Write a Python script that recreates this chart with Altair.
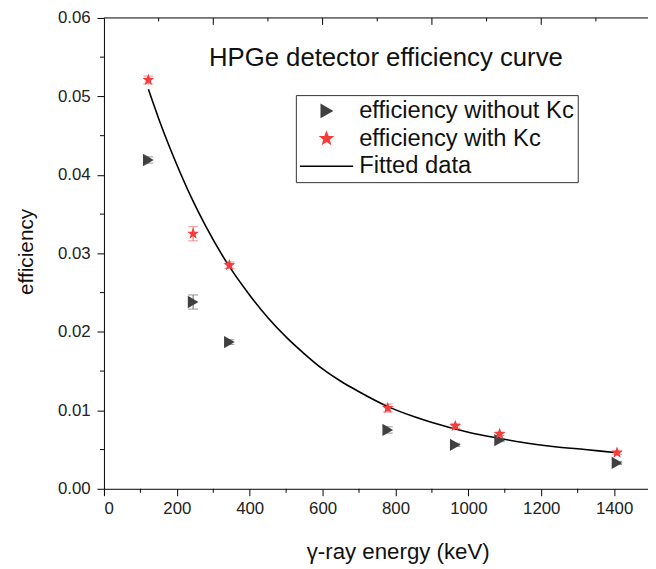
import math
import altair as alt
import pandas as pd

# ---- data ----
series_names = ["efficiency without Kc", "efficiency with Kc", "Fitted data"]

energy = [121.78, 244.70, 344.28, 778.90, 964.08, 1085.84, 1408.01]
eff_without = [0.0419, 0.0238, 0.0187, 0.0075, 0.0056, 0.0062, 0.0033]
err_without = [0.0004, 0.0009, 0.0003, 0.0004, 0.0002, 0.0002, 0.0002]
eff_with = [0.0521, 0.0325, 0.0285, 0.0103, 0.0080, 0.0070, 0.0046]
err_with = [0.0005, 0.0009, 0.0004, 0.0005, 0.0003, 0.0002, 0.0002]

fit_energy = [122, 150, 177, 200, 240, 280, 343, 398, 450, 503, 550, 599,
              650, 695, 778, 850, 896, 1000, 1088, 1150, 1232, 1320, 1408]
fit_eff = [0.0509, 0.0472, 0.0439, 0.0413, 0.0371, 0.0334, 0.0284, 0.0248,
           0.0218, 0.0192, 0.0172, 0.0153, 0.0137, 0.0125, 0.0105, 0.0092,
           0.0085, 0.0072, 0.0064, 0.0059, 0.0054, 0.0050, 0.0046]

x_major = [0, 200, 400, 600, 800, 1000, 1200, 1400]
x_minor = [100, 300, 500, 700, 900, 1100, 1300]
y_major = [0.0, 0.01, 0.02, 0.03, 0.04, 0.05, 0.06]
y_minor = [0.005, 0.015, 0.025, 0.035, 0.045, 0.055]
top_major = [300, 600, 900, 1200]
top_minor = [150, 450, 750, 1050, 1350]

# symbol paths in the unit box [-1, 1]
def star_path(r_in=0.42):
    pts_ = []
    for k in range(10):
        ang = math.radians(-90 + 36 * k)
        r = 1.0 if k % 2 == 0 else r_in
        pts_.append(f"{r * math.cos(ang):.3f},{r * math.sin(ang):.3f}")
    return "M" + "L".join(pts_) + "Z"

STAR = star_path()
LONG_LINE = "M-4.4,0L4.4,0"   # legend sample for the fitted line

# ---- tables ----
pts = pd.DataFrame({
    "energy": energy * 2,
    "eff": eff_without + eff_with,
    "series": [series_names[0]] * len(energy) + [series_names[1]] * len(energy),
})
def eb_table(vals, errs):
    return pd.DataFrame({"energy": energy,
                         "lo": [v - e for v, e in zip(vals, errs)],
                         "hi": [v + e for v, e in zip(vals, errs)]})
eb_without = eb_table(eff_without, err_without)
eb_with = eb_table(eff_with, err_with)
fit = pd.DataFrame({"energy": fit_energy, "eff": fit_eff,
                    "series": [series_names[2]] * len(fit_energy)})

W, H = 550, 476
FONT = "Liberation Sans"
xs = alt.Scale(domain=[0, 1493], nice=False, zero=False)
ys = alt.Scale(domain=[0, 0.06], nice=False, zero=False)

x_axis = alt.Axis(values=x_major, tickSize=7, labelFontSize=17, format="d",
                  labelPadding=5, labelFont=FONT, labelColor="#222222",
                  domainColor="black", tickColor="black", grid=False,
                  title="γ-ray energy (keV)", titleFont=FONT,
                  titleFontSize=22.5, titleFontWeight="normal",
                  titleColor="#111111", titleX=297, titleY=70,
                  titleBaseline="alphabetic", titleAlign="center")
y_axis = alt.Axis(values=y_major, format=".2f", tickSize=7,
                  labelFontSize=17, labelPadding=7, labelFont=FONT,
                  labelColor="#222222", domainColor="black",
                  tickColor="black", grid=False, title="efficiency",
                  titleFont=FONT, titleFontSize=21,
                  titleFontWeight="normal", titleColor="#111111",
                  titleAngle=-90, titleX=-78, titleY=236,
                  titleBaseline="middle", titleAlign="center")

def X(field):
    return alt.X(field, scale=xs, axis=x_axis, title="γ-ray energy (keV)")

def Y(field):
    return alt.Y(field, scale=ys, axis=y_axis, title="efficiency")

legend = alt.Legend(title=None, orient="none", legendX=194, legendY=78,
                    fillColor="white", strokeColor="#333333", padding=4,
                    labelFontSize=24, labelFont=FONT, labelColor="#111111",
                    labelOffset=21, rowPadding=4, labelLimit=0,
                    symbolSize=150, symbolOffset=15, symbolStrokeWidth=1.6)

color = alt.Color("series:N", legend=legend,
                  scale=alt.Scale(domain=series_names,
                                  range=["#404040", "#f53b3b", "#000000"]))
shape = alt.Shape("series:N", legend=legend,
                  scale=alt.Scale(domain=series_names,
                                  range=["triangle-right", STAR, LONG_LINE]))

fit_line = alt.Chart(fit).mark_line(strokeWidth=1.6, interpolate="monotone").encode(
    x=X("energy:Q"), y=Y("eff:Q"), color=color)

def ebars(df, col):
    rule = alt.Chart(df).mark_rule(strokeWidth=1, color=col).encode(
        x=X("energy:Q"), y=Y("lo:Q"), y2="hi:Q")
    cap_lo = alt.Chart(df).mark_tick(orient="horizontal", size=10, thickness=1,
                                     color=col).encode(x=X("energy:Q"), y=Y("lo:Q"))
    cap_hi = alt.Chart(df).mark_tick(orient="horizontal", size=10, thickness=1,
                                     color=col).encode(x=X("energy:Q"), y=Y("hi:Q"))
    return [rule, cap_lo, cap_hi]

points = alt.Chart(pts).mark_point(filled=True, opacity=1, size=155).encode(
    x=X("energy:Q"), y=Y("eff:Q"), color=color, shape=shape)

# decorative ticks: minor ticks, top frame ticks
def vtick(values, y0, y1):
    return alt.Chart(pd.DataFrame({"energy": values})).mark_rule(
        color="black", strokeWidth=1).encode(
        x=X("energy:Q"), y=alt.value(y0), y2=alt.value(y1))

minor_x = vtick(x_minor, H, H + 4)
top_maj = vtick(top_major, 0, 7)
top_min = vtick(top_minor, 0, 3.5)
top_line = alt.Chart(pd.DataFrame({"energy": [0]})).mark_rule(
    color="black", strokeWidth=1).encode(
    x=alt.value(0), x2=alt.value(W), y=alt.value(0))
minor_y = alt.Chart(pd.DataFrame({"eff": y_minor})).mark_rule(
    color="black", strokeWidth=1).encode(
    y=Y("eff:Q"), x=alt.value(-4), x2=alt.value(0))

chart = alt.layer(
    fit_line, *ebars(eb_without, "#6a6a6a"), *ebars(eb_with, "#f06262"), points,
    minor_x, top_maj, top_min, top_line, minor_y,
).properties(
    width=W, height=H,
    autosize=alt.AutoSizeParams(type="none"),
    padding={"left": 97, "top": 7, "right": 0, "bottom": 76},
    title=alt.TitleParams("HPGe detector efficiency curve", font=FONT,
                          fontSize=26, fontWeight="normal", color="#111111",
                          anchor="middle", baseline="alphabetic", offset=0,
                          dx=10, dy=84),
    background="white",
).configure_view(stroke=None)

chart.save("out.html", embed_options={"renderer": "svg", "actions": False})
